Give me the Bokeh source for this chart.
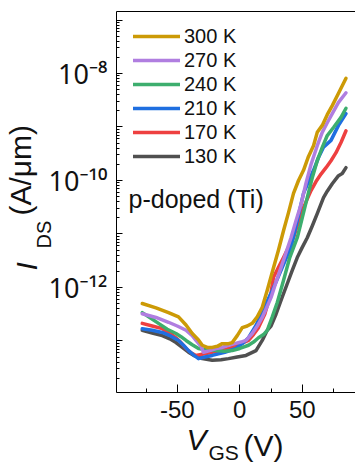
from bokeh.plotting import figure
from bokeh.models import (FixedTicker, CustomJSTickFormatter, Legend, LegendItem,
                          Label, LinearAxis, Range1d, Title)
from bokeh.embed import file_html
from bokeh.resources import INLINE

# ---------------- data ----------------
temps = ["300 K", "270 K", "240 K", "210 K", "170 K", "130 K"]
colors = ["#CC9A06", "#B07EE0", "#3DAE6E", "#1F6FE0", "#EE4040", "#505050"]

# V_GS (V) and log10(I_DS / (A/um)) for each temperature
vgs_300 = [-78, -67, -57, -49, -43, -38, -33, -30, -26, -22, -18, -14, -9, -6, -2, 2, 6, 10,
           14, 18, 22, 27, 31, 35, 39, 43, 47, 51, 55, 59, 62, 66, 70, 74, 79, 85]
log_ids_300 = [-12.30, -12.38, -12.47, -12.55, -12.70, -12.86, -12.98, -13.08, -13.12, -13.12,
               -13.10, -13.05, -13.05, -13.03, -12.90, -12.75, -12.72, -12.67, -12.55, -12.37,
               -12.05, -11.63, -11.30, -10.94, -10.60, -10.24, -10.00, -9.81, -9.55, -9.35,
               -9.10, -8.97, -8.77, -8.60, -8.37, -8.09]

vgs_270 = [-78, -67, -57, -50, -43, -38, -35, -31, -29, -24, -19, -14, -9, -4, 1, 5, 10, 14,
           18, 22, 25, 29, 33, 37, 41, 45, 49, 53, 57, 62, 66, 70, 74, 79, 85]
log_ids_270 = [-12.49, -12.56, -12.65, -12.72, -12.80, -12.90, -12.99, -13.10, -13.21, -13.18,
               -13.14, -13.12, -13.08, -13.05, -13.02, -12.99, -12.86, -12.72, -12.56, -12.35,
               -12.19, -11.90, -11.63, -11.35, -11.07, -10.75, -10.45, -10.05, -9.70, -9.35,
               -9.10, -8.92, -8.75, -8.54, -8.36]

vgs_240 = [-78, -72, -65, -58, -51, -47, -43, -38, -33, -26, -19, -12, -6, 0, 7, 11, 15, 19,
           22, 26, 30, 35, 40, 46, 50, 54, 58, 62, 66, 70, 75, 81, 85]
log_ids_240 = [-12.47, -12.56, -12.67, -12.78, -12.86, -12.92, -12.99, -13.07, -13.14, -13.17,
               -13.18, -13.19, -13.18, -13.14, -13.08, -13.02, -12.94, -12.88, -12.80, -12.55,
               -12.28, -11.87, -11.44, -11.07, -10.70, -10.32, -9.95, -9.63, -9.38, -9.16,
               -9.01, -8.82, -8.65]

vgs_210 = [-78, -70, -62, -55, -49, -45, -41, -37, -33, -28, -22, -12, -3, 2, 7, 13, 19, 25,
           29, 33, 37, 41, 46, 51, 55, 59, 63, 67, 73, 79, 85]
log_ids_210 = [-12.77, -12.80, -12.84, -12.91, -12.99, -13.08, -13.18, -13.26, -13.33, -13.30,
               -13.27, -13.21, -13.14, -13.05, -12.94, -12.71, -12.40, -12.11, -11.90, -11.68,
               -11.46, -11.25, -10.75, -10.24, -10.02, -9.81, -9.57, -9.38, -9.25, -8.97, -8.75]

vgs_170 = [-78, -70, -62, -56, -51, -47, -43, -39, -35, -28, -22, -14, -6, 0, 7, 11, 15, 20,
           25, 27, 31, 35, 39, 43, 49, 53, 57, 61, 65, 69, 73, 77, 81, 85]
log_ids_170 = [-12.67, -12.72, -12.77, -12.85, -12.94, -13.03, -13.14, -13.22, -13.27, -13.24,
               -13.21, -13.17, -13.12, -13.06, -12.99, -12.88, -12.75, -12.50, -12.10, -11.81,
               -11.62, -11.44, -11.25, -11.07, -10.62, -10.40, -10.19, -10.02, -9.88, -9.76,
               -9.63, -9.48, -9.29, -9.07]

vgs_130 = [-78, -70, -62, -56, -51, -46, -41, -36, -30, -22, -15, -9, -2, 5, 13, 18, 22, 25,
           29, 33, 38, 42, 46, 50, 54, 58, 62, 67, 70, 74, 79, 82, 85]
log_ids_130 = [-12.80, -12.85, -12.90, -12.96, -13.03, -13.12, -13.21, -13.28, -13.33, -13.36,
               -13.35, -13.33, -13.30, -13.27, -13.18, -12.99, -12.80, -12.72, -12.50, -12.24,
               -11.93, -11.68, -11.44, -11.25, -11.07, -10.85, -10.62, -10.32, -10.20, -10.06,
               -9.91, -9.87, -9.76]

x_ticks = [-50, 0, 50]
x_tick_labels = ["-50", "0", "50"]
x_minor_ticks = [-75, -25, 25, 75]
y_decades = [-14, -13, -12, -11, -10, -9, -8, -7]
y_label_exps = [-12, -10, -8]
y_label_texts = ["10\u207b\u00b9\u00b2", "10\u207b\u00b9\u2070", "10\u207b\u2078"]

series = [(vgs_300, log_ids_300), (vgs_270, log_ids_270), (vgs_240, log_ids_240),
          (vgs_210, log_ids_210), (vgs_170, log_ids_170), (vgs_130, log_ids_130)]

FONT = "Liberation Sans"
TXT = "#111111"

# ---------------- figure ----------------
p = figure(width=355, height=466, y_axis_type="log",
           x_range=Range1d(-98.6, 92.6), y_range=Range1d(10 ** -13.963, 10 ** -6.841),
           output_backend="svg", toolbar_location=None,
           min_border_left=116, min_border_right=0, min_border_top=11, min_border_bottom=74)
p.outline_line_color = None
p.xgrid.visible = False
p.ygrid.visible = False

xa = p.xaxis[0]
xa.ticker = FixedTicker(ticks=x_ticks, minor_ticks=x_minor_ticks)
xa.major_label_overrides = {t: s for t, s in zip(x_ticks, x_tick_labels)}
xa.major_tick_in = 8
xa.major_tick_out = 0
xa.minor_tick_in = 4
xa.minor_tick_out = 0
xa.major_label_text_font = FONT
xa.major_label_text_font_size = "24px"
xa.major_label_text_color = TXT
xa.major_label_standoff = 8
xa.axis_line_color = "black"

ya = p.yaxis[0]
y_major = [10.0 ** e for e in y_decades]
y_minor = [m * 10.0 ** e for e in y_decades for m in range(2, 10)]
ya.ticker = FixedTicker(ticks=y_major, minor_ticks=y_minor)
ya.formatter = CustomJSTickFormatter(args=dict(exps=y_label_exps, texts=y_label_texts), code="""
    const e = Math.round(Math.log10(tick));
    const i = exps.indexOf(e);
    return i >= 0 ? texts[i] : "";
""")
ya.major_tick_in = 6
ya.major_tick_out = 0
ya.minor_tick_in = 3
ya.minor_tick_out = 0
ya.major_label_text_font = "Noto Sans"
ya.major_label_text_font_size = "27px"
ya.major_label_text_color = TXT
ya.major_label_standoff = 9
ya.axis_line_color = "black"

top_axis = LinearAxis(ticker=FixedTicker(ticks=[]), major_label_standoff=0,
                      major_tick_in=0, major_tick_out=0, minor_tick_in=0, minor_tick_out=0,
                      axis_line_color="black")
p.add_layout(top_axis, "above")

# ---------------- curves ----------------
renderers = {}
for i in list(range(len(temps)))[::-1]:  # 130 K drawn first, 300 K on top
    v, lg = series[i]
    renderers[i] = p.line(v, [10.0 ** x for x in lg], line_color=colors[i], line_width=3.5,
                          line_join="round", line_cap="round")

legend = Legend(items=[LegendItem(label=temps[i], renderers=[renderers[i]]) for i in range(len(temps))],
                location=(17, 224), padding=0, spacing=0, margin=0,
                glyph_width=47, glyph_height=24, label_height=24, label_standoff=4,
                label_text_font=FONT, label_text_font_size="20px", label_text_color=TXT,
                border_line_color=None, background_fill_alpha=0)
p.add_layout(legend)

p.add_layout(Label(x=12, y=194, x_units="screen", y_units="screen", text="p-doped (Ti)",
                   text_font=FONT, text_font_size="25px", text_color=TXT,
                   text_baseline="alphabetic", text_align="left"))


def piece(text, size, offset, standoff, italic=False, valign="middle"):
    return Title(text=text, align="left", offset=offset, standoff=standoff,
                 vertical_align=valign, text_font=FONT, text_font_size=size,
                 text_font_style="italic" if italic else "normal", text_color=TXT)


# x-axis label  V_GS (V)  (pieces stacked below the axis with near-zero panel size)
p.add_layout(piece(" ", "10px", 0, 4), "below")                 # spacer
p.add_layout(piece("V", "30px", 70, -31, italic=True), "below")
p.add_layout(piece("(V)", "30px", 127, -27), "below")
p.add_layout(piece("GS", "21px", 92, -19), "below")

# y-axis label  I_DS (A/um)
p.add_layout(piece("DS", "20px", 144, -20), "left")
p.add_layout(piece(" ", "10px", 0, 0), "left")                  # spacer
p.add_layout(piece("I", "30px", 122, -31, italic=True), "left")
p.add_layout(piece("(A/\u03bcm)", "30px", 177, -26), "left")

open("out.html", "w").write(file_html(p, INLINE))
